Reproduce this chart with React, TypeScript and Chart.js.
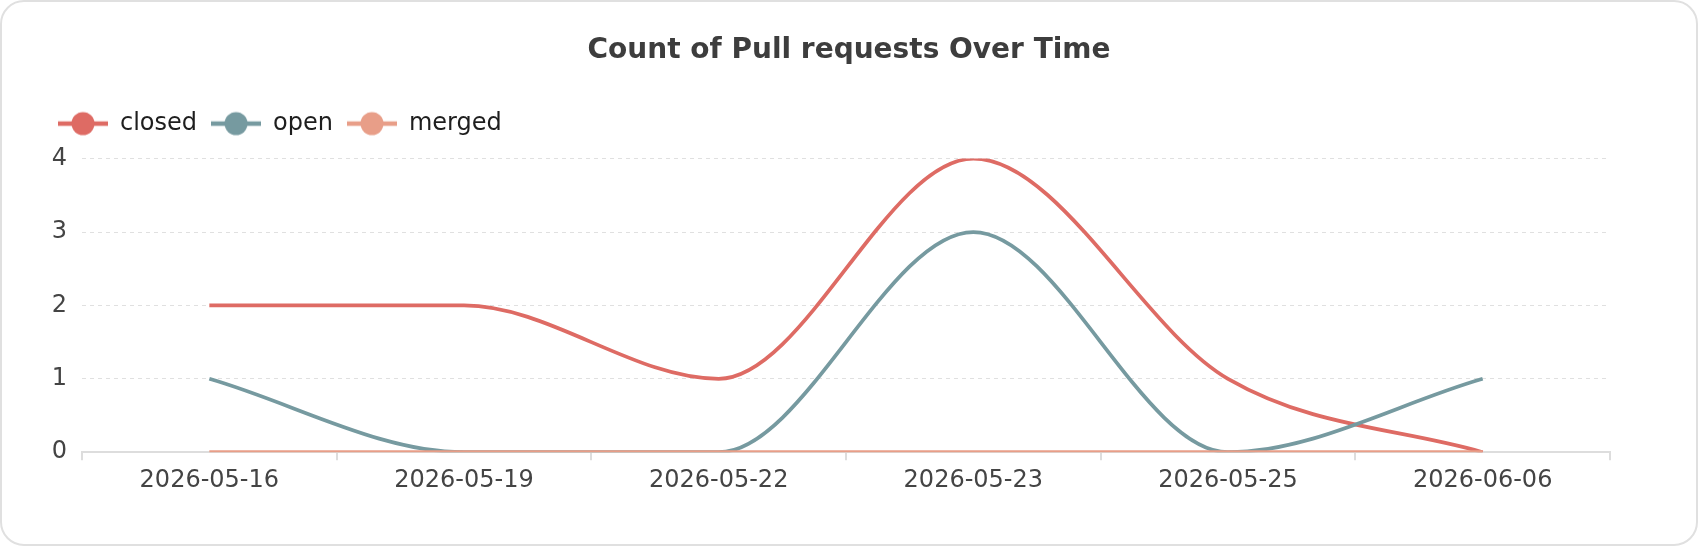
import React, { useEffect, useRef } from "react";
import { Chart, registerables } from "chart.js";

Chart.register(...registerables);

const categories = ["2026-05-16", "2026-05-19", "2026-05-22", "2026-05-23", "2026-05-25", "2026-06-06"];
const closedValues = [2, 2, 1, 4, 1, 0];
const openValues = [1, 0, 0, 3, 0, 1];
const mergedValues = [0, 0, 0, 0, 0, 0];
const seriesNames = ["closed", "open", "merged"];
const seriesColors = ["#de6b64", "#769aa0", "#e89e88"];
const titleText = "Count of Pull requests Over Time";

const FONT = "'DejaVu Sans', sans-serif";

function makeMarker(color: string): HTMLCanvasElement {
  const c = document.createElement("canvas");
  c.width = 50;
  c.height = 26;
  const ctx = c.getContext("2d")!;
  ctx.strokeStyle = color;
  ctx.lineWidth = 4.5;
  ctx.beginPath();
  ctx.moveTo(0, 13);
  ctx.lineTo(50, 13);
  ctx.stroke();
  ctx.fillStyle = color;
  ctx.beginPath();
  ctx.arc(25, 13, 11.5, 0, Math.PI * 2);
  ctx.fill();
  return c;
}

export default function App() {
  const ref = useRef<HTMLCanvasElement | null>(null);

  useEffect(() => {
    document.body.style.margin = "0";
    const markers = seriesColors.map(makeMarker);
    const legendSpacer = {
      id: "legendSpacer",
      beforeInit(chart: any) {
        const orig = chart.legend.fit;
        chart.legend.fit = function () {
          orig.call(this);
          this.height += 13;
        };
      },
    };
    const values = [closedValues, openValues, mergedValues];
    const chart = new Chart(ref.current!, {
      type: "line",
      data: {
        labels: categories,
        datasets: values.map((v, i) => ({
          label: seriesNames[i],
          data: v,
          borderColor: seriesColors[i],
          backgroundColor: seriesColors[i],
          borderWidth: 3.75,
          pointRadius: 0,
          pointHoverRadius: 0,
          cubicInterpolationMode: "monotone" as const,
          fill: false,
          yAxisID: "y",
          order: 3 - i,
        })),
      },
      options: {
        animation: false,
        responsive: true,
        maintainAspectRatio: false,
        layout: { padding: { left: 42, right: 42, top: 0, bottom: 43 } },
        plugins: {
          title: {
            display: true,
            text: titleText,
            color: "#3d3d3d",
            font: { family: FONT, size: 28, weight: "bold" },
            padding: { top: 32, bottom: 30 },
          },
          legend: {
            display: true,
            position: "top",
            align: "start",
            labels: {
              usePointStyle: true,
              pointStyleWidth: 50,
              boxHeight: 24,
              padding: 14,
              color: "#1e1e1e",
              font: { family: FONT, size: 24 },
              sort: (a: any, b: any) => a.datasetIndex - b.datasetIndex,
              generateLabels: (ch: any) => {
                const items = (Chart.defaults.plugins.legend.labels as any).generateLabels(ch);
                items.forEach((it: any) => {
                  it.pointStyle = markers[it.datasetIndex];
                });
                return items;
              },
            },
          },
          tooltip: { enabled: false },
        },
        scales: {
          x: {
            type: "category",
            offset: true,
            grid: {
              display: true,
              offset: true,
              drawOnChartArea: false,
              drawTicks: true,
              tickLength: 8,
              color: "#dddddd",
              lineWidth: 2,
            },
            border: { display: true, color: "#dddddd", width: 2 },
            ticks: {
              color: "#444444",
              font: { family: FONT, size: 24 },
              padding: 6,
              maxRotation: 0,
              autoSkip: false,
            },
          },
          y: {
            type: "linear",
            position: "left",
            min: 0,
            max: 4,
            grid: {
              color: "#e0e0e0",
              lineWidth: 1,
              drawTicks: false,
            },
            border: { display: false, dash: [4, 4] },
            ticks: {
              stepSize: 1,
              color: "#444444",
              font: { family: FONT, size: 24 },
              padding: 15,
            },
            afterFit: (s: any) => {
              s.width = 38;
            },
          },
          yR: {
            type: "linear",
            position: "right",
            display: true,
            grid: { display: false, drawTicks: false },
            border: { display: false },
            ticks: { display: false },
            afterFit: (s: any) => {
              s.width = 44;
            },
          },
        },
      },
      plugins: [legendSpacer],
    });
    return () => chart.destroy();
  }, []);

  return (
    <div
      style={{
        width: 1698,
        height: 546,
        boxSizing: "border-box",
        border: "2px solid #e0e0e0",
        borderRadius: 24,
        background: "#fff",
        overflow: "hidden",
      }}
    >
      <div style={{ position: "relative", width: "100%", height: "100%" }}>
        <canvas ref={ref} />
      </div>
    </div>
  );
}
